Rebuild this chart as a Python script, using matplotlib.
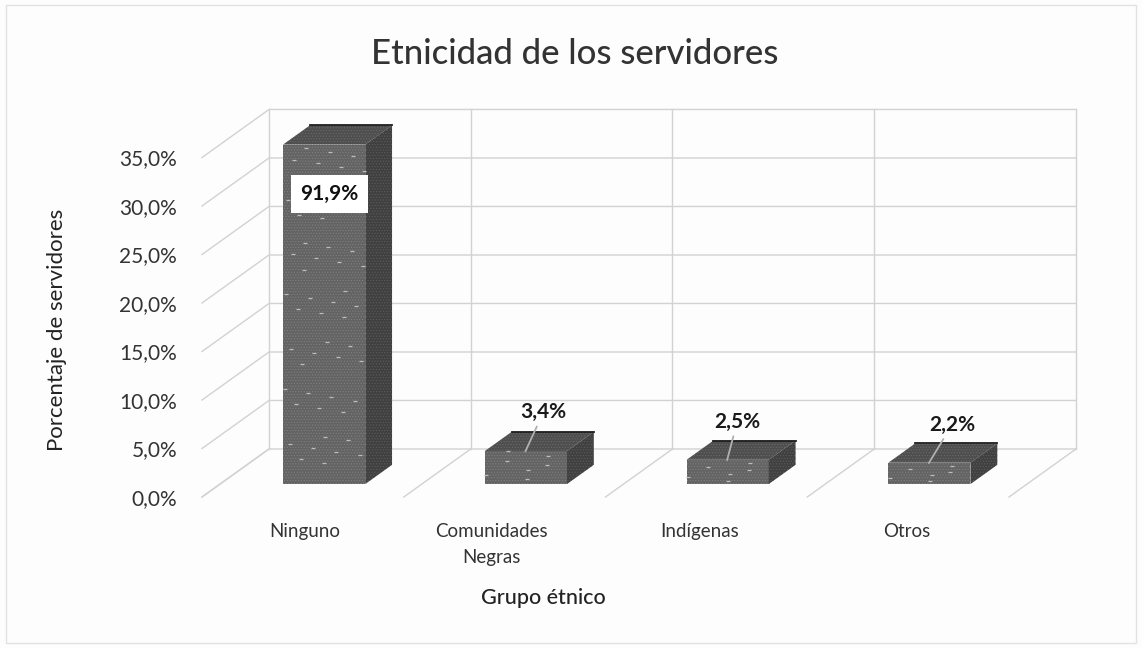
import matplotlib.pyplot as plt
from matplotlib.patches import Polygon, Rectangle
import numpy as np

plt.rcParams['font.family'] = ['Lato', 'DejaVu Sans']
plt.rcParams['hatch.linewidth'] = 0.5

categories = ['Ninguno', 'Comunidades\nNegras', 'Indígenas', 'Otros']
values = [91.9, 3.4, 2.5, 2.2]
value_labels = ['91,9%', '3,4%', '2,5%', '2,2%']
y_ticks = [0, 5, 10, 15, 20, 25, 30, 35]
y_tick_labels = ['0,0%', '5,0%', '10,0%', '15,0%', '20,0%', '25,0%', '30,0%', '35,0%']

W, H = 1142, 648
ymax = 35

fig = plt.figure(figsize=(W / 100, H / 100), dpi=100, facecolor='#fdfdfd')
# axes box is the front edge of the floor, everything behind it is sheared by project()
ax = fig.add_axes([202 / W, 1 - 497 / H, 807 / W, 339.5 / H])
ax.set_xlim(-0.5, 3.5)
ax.set_ylim(0, ymax)
ax.patch.set_alpha(0)
for s in ax.spines.values():
    s.set_visible(False)

shear_x = 0.332
shear_y = 4.95


def project(x, v, depth):
    return x + depth * shear_x, v + depth * shear_y


grid_col = '#d2d2d2'

# page frame
fig.add_artist(Rectangle((6 / W, 1 - 643 / H), 1130 / W, 638 / H, fill=False,
                         ec='#e2e2e2', lw=1, transform=fig.transFigure))

# back wall and side wall lines
for t in y_ticks:
    x0, y0 = project(-0.5, t, 0)
    x1, y1 = project(-0.5, t, 1)
    x2, y2 = project(3.5, t, 1)
    ax.plot([x0, x1, x2], [y0, y1, y2], color=grid_col, lw=1, clip_on=False, zorder=1)

for i in range(5):
    xb, yb = project(i - 0.5, 0, 1)
    xt, yt = project(i - 0.5, ymax, 1)
    xf, yf = project(i - 0.5, 0, 0)
    ax.plot([xb, xt], [yb, yt], color=grid_col, lw=1, clip_on=False, zorder=1)
    ax.plot([xb, xf], [yb, yf], color=grid_col, lw=1, clip_on=False, zorder=1)


def face(pts, col, grain):
    ax.add_patch(Polygon(pts, closed=True, fc=col, ec=grain, lw=0, hatch='......', clip_on=False, zorder=3))


def flecks(x0, x1, v0, v1, d, n):
    # light flecks on a front face, spread with a low discrepancy sequence
    k = np.arange(1, n + 1)
    fx = x0 + (x1 - x0) * ((k * 0.7548776) % 1)
    fv = v0 + (v1 - v0) * ((k * 0.5698403) % 1)
    px, pv = project(fx, fv, d)
    ax.plot(px, pv, ls='none', marker='_', ms=2.5, mew=0.9, color='#bdbdbd', clip_on=False, zorder=4)


# bars, the axis stops at 35 so the tallest one is cut there
bar_w = 0.407
d0, d1 = 0.27, 0.67
label_offsets = [(-8, -59), (18, 39), (10, 38), (23, 38)]
for i, v in enumerate(values):
    h = min(v, ymax)
    left = i + 0.016 - bar_w / 2
    right = left + bar_w
    front = [project(left, 0, d0), project(right, 0, d0), project(right, h, d0), project(left, h, d0)]
    side = [project(right, 0, d0), project(right, 0, d1), project(right, h, d1), project(right, h, d0)]
    top = [project(left, h, d0), project(right, h, d0), project(right, h, d1), project(left, h, d1)]
    face(front, '#636363', '#808080')
    face(side, '#404040', '#5c5c5c')
    face(top, '#4e4e4e', '#6a6a6a')
    flecks(left, right, 0, h, d0, int(h * 1.4) + 3)
    # dark edge along the back of the top face
    ax.plot([top[3][0], top[2][0]], [top[3][1], top[2][1]], color='#1e1e1e', lw=1.3, clip_on=False, zorder=4)

    # value labels sit above the top face with a thin leader, the cut bar has a boxed one inside
    cx, cy = project(i + 0.016, h, (d0 + d1) / 2)
    if v > ymax:
        ax.annotate(value_labels[i], (cx, cy), xytext=label_offsets[i], textcoords='offset pixels', ha='center', va='center',
                    fontsize=15, fontweight='bold', color='#111111', zorder=6, annotation_clip=False,
                    bbox=dict(boxstyle='square,pad=0.45', fc='white', ec='none'))
    else:
        ax.annotate(value_labels[i], (cx - 14 / 201.75, cy - 10 / 9.7), xytext=label_offsets[i], textcoords='offset pixels',
                    ha='center', va='center', fontsize=15, fontweight='bold', color='#1a1a1a', zorder=6, annotation_clip=False,
                    arrowprops=dict(arrowstyle='-', color='#b0b0b0', lw=1.3, shrinkA=1, shrinkB=0))

ax.set_yticks(y_ticks, y_tick_labels)
ax.set_xticks(np.arange(4) + np.array([0.01, -0.065, -0.035, -0.005]), categories)
ax.tick_params(axis='y', length=0, pad=18, labelsize=15, labelcolor='#333333')
ax.tick_params(axis='x', length=0, pad=19, labelsize=13.5, labelcolor='#333333')
for lab in ax.get_xticklabels():
    lab.set_linespacing(1.6)

fig.text(575 / W, 1 - 54 / H, 'Etnicidad de los servidores', ha='center', va='center',
         fontsize=25, fontweight='medium', color='#333333')
fig.text(57 / W, 1 - 330 / H, 'Porcentaje de servidores', ha='center', va='center', rotation=90,
         fontsize=16, color='#222222')
fig.text(543 / W, 1 - 598 / H, 'Grupo étnico', ha='center', va='center',
         fontsize=15.5, fontweight='medium', color='#222222')

fig.savefig('out.png', dpi=100, facecolor=fig.get_facecolor())
